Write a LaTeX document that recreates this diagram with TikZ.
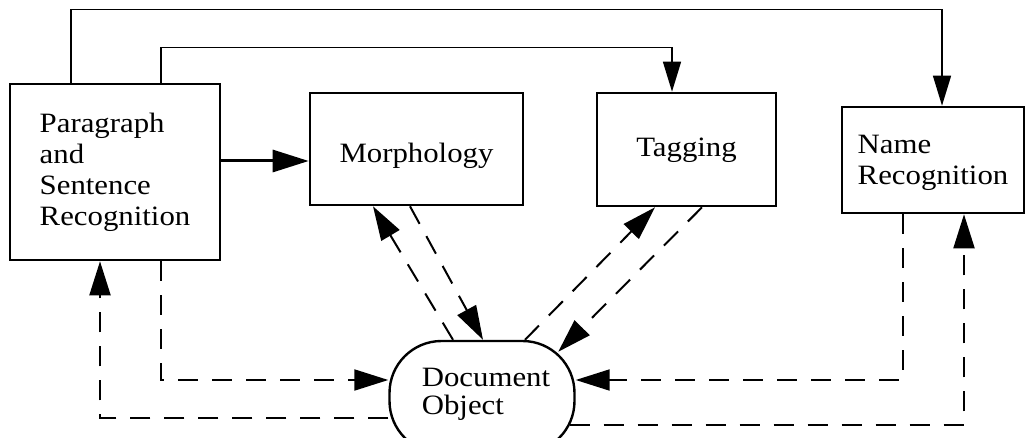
\documentclass[tikz,border=0pt]{standalone}
\usepackage{fontspec}
\setmainfont{Liberation Serif}[FakeStretch=1.1]
\usetikzlibrary{arrows.meta,calc}
\begin{document}
\begin{tikzpicture}[x=1pt,y=-1pt,
  box/.style={draw,line width=2.6pt,rectangle,inner sep=0pt,align=left,
    font=\fontsize{28}{31}\selectfont},
  docbox/.style={draw,line width=2.4pt,rectangle,rounded corners=52pt,inner sep=0pt,align=left,
    font=\fontsize{28}{28}\selectfont},
  ctl/.style={line width=1.4pt,-{Triangle[length=30pt,width=18pt]}},
  thick ctl/.style={line width=3pt,-{Triangle[length=36pt,width=22pt]}},
  dat/.style={line width=2pt,dash pattern=on 20pt off 14pt,-{Triangle[length=34pt,width=21pt]}}
]
\useasboundingbox (0,0) rectangle (1027,438);
\node[box,minimum width=210pt,minimum height=176pt] (P) at (115,172) {Paragraph\\and\\Sentence\\Recognition};
\node[box,minimum width=213pt,minimum height=112pt,text height=27pt,text depth=0pt] (M) at (416.5,149) {Morphology};
\node[box,minimum width=179pt,minimum height=113pt,text height=21pt,text depth=6pt] (T) at (686.5,149.5) {Tagging};
\node[box,minimum width=182pt,minimum height=106pt] (N) at (933,160) {\rule{0pt}{25pt}Name\\Recognition};
\node[docbox,minimum width=185pt,minimum height=112pt] (D) at (482,397) {\hspace*{8pt}Document\\\hspace*{8pt}Object\rule[-11pt]{0pt}{1pt}};

% control flow
\draw[ctl] (P.north -| 71,0) -- (71,9.5) -| (N.north -| 942,0);
\draw[ctl] (P.north -| 161,0) -- (161,47.7) -| (T.north -| 672,0);
\draw[thick ctl] (P.east |- 0,161) -- (M.west |- 0,161);

% data flow
\draw[dat] (P.south -| 161,0) |- (D.west |- 0,380);
\draw[dat] (D.west |- 0,418) -| (P.south -| 100,0);
\draw[dat] (D.north -| 453,0) -- (M.south -| 373,0);
\draw[dat] (M.south -| 410,0) -- (D.north -| 483,0);
\draw[dat] (D.north -| 525,0) -- (T.south -| 655,0);
\draw[dat] (T.south -| 702,0) -- ([xshift=-17.5pt,yshift=-12pt]D.north east);
\draw[dat] (N.south -| 903,0) |- (D.east |- 0,380);
\draw[dat] ([xshift=-6pt,yshift=-28pt]D.east) -| (N.south -| 964,0);
\end{tikzpicture}
\end{document}
